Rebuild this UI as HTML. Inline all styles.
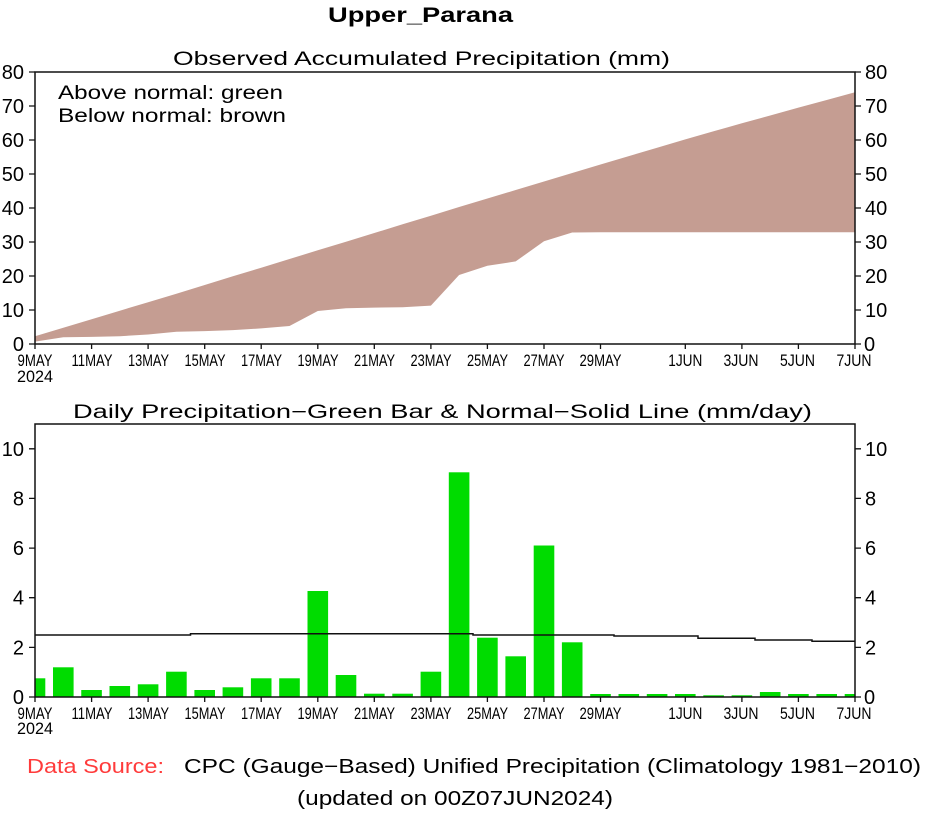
<!DOCTYPE html>
<html>
<head>
<meta charset="utf-8">
<style>
html,body{margin:0;padding:0;background:#fff;}
svg{display:block;}
text{font-family:"Liberation Sans",sans-serif;fill:#000;}
</style>
</head>
<body>
<svg width="926" height="813" viewBox="0 0 926 813" xmlns="http://www.w3.org/2000/svg">
<rect x="0" y="0" width="926" height="813" fill="#fff"/>

<!-- Title -->
<text x="328" y="22" font-size="21" font-weight="bold" textLength="185" lengthAdjust="spacingAndGlyphs">Upper_Parana</text>
<text x="173" y="65" font-size="19" textLength="497" lengthAdjust="spacingAndGlyphs">Observed Accumulated Precipitation (mm)</text>

<!-- TOP CHART -->
<polygon fill="#c59d92" points="35,336.2 63.3,327.7 91.6,319.2 119.8,310.7 148.1,302.2 176.4,293.7 204.7,285.0 232.9,276.3 261.2,267.7 289.5,259.0 317.8,250.3 346.0,241.7 374.3,233.0 402.6,224.3 430.9,215.7 459.1,207.0 487.4,198.5 515.7,190.0 544.0,181.5 572.2,173.0 600.5,164.5 628.8,156.1 657.1,147.8 685.3,139.4 713.6,131.3 741.9,123.3 770.2,115.5 798.4,107.6 826.7,100.0 855,92.3 855,232.2 600.5,232.2 572.2,232.5 544.0,241.3 515.7,261.4 487.4,265.8 459.1,275.0 430.9,305.6 402.6,307.3 374.3,307.6 346.0,308.3 317.8,311.0 289.5,326.0 261.2,328.4 232.9,330.1 204.7,331.1 176.4,331.8 148.1,334.5 119.8,336.2 91.6,336.9 63.3,337.2 35,341.6"/>
<rect x="35" y="72" width="820" height="272" fill="none" stroke="#111" stroke-width="1.5"/>

<text x="58" y="99" font-size="19" textLength="225" lengthAdjust="spacingAndGlyphs">Above normal: green</text>
<text x="58" y="122" font-size="19" textLength="228" lengthAdjust="spacingAndGlyphs">Below normal: brown</text>

<!-- y ticks top -->
<g stroke="#111" stroke-width="1.3">
<path d="M29,344H35M29,310H35M29,276H35M29,242H35M29,208H35M29,174H35M29,140H35M29,106H35M29,72H35"/>
<path d="M855,344H861M855,310H861M855,276H861M855,242H861M855,208H861M855,174H861M855,140H861M855,106H861M855,72H861"/>
<path d="M35,344V349M91.6,344V349M148.1,344V349M204.7,344V349M261.2,344V349M317.8,344V349M374.3,344V349M430.9,344V349M487.4,344V349M544,344V349M600.5,344V349M685.3,344V349M741.9,344V349M798.4,344V349M855,344V349"/>
</g>
<g font-size="20" text-anchor="end">
<text x="24" y="351">0</text>
<text x="24" y="317">10</text>
<text x="24" y="283">20</text>
<text x="24" y="249">30</text>
<text x="24" y="215">40</text>
<text x="24" y="181">50</text>
<text x="24" y="147">60</text>
<text x="24" y="113">70</text>
<text x="24" y="79">80</text>
</g>
<g font-size="20">
<text x="864" y="351">0</text>
<text x="865" y="317">10</text>
<text x="865" y="283">20</text>
<text x="865" y="249">30</text>
<text x="865" y="215">40</text>
<text x="865" y="181">50</text>
<text x="865" y="147">60</text>
<text x="865" y="113">70</text>
<text x="865" y="79">80</text>
</g>
<g font-size="17" text-anchor="middle" lengthAdjust="spacingAndGlyphs">
<text x="35" y="366" textLength="35" lengthAdjust="spacingAndGlyphs">9MAY</text>
<text x="35" y="382" textLength="36" lengthAdjust="spacingAndGlyphs">2024</text>
<text x="92" y="366" textLength="41" lengthAdjust="spacingAndGlyphs">11MAY</text>
<text x="148.5" y="366" textLength="41" lengthAdjust="spacingAndGlyphs">13MAY</text>
<text x="205" y="366" textLength="41" lengthAdjust="spacingAndGlyphs">15MAY</text>
<text x="261.5" y="366" textLength="41" lengthAdjust="spacingAndGlyphs">17MAY</text>
<text x="318" y="366" textLength="41" lengthAdjust="spacingAndGlyphs">19MAY</text>
<text x="374.5" y="366" textLength="41" lengthAdjust="spacingAndGlyphs">21MAY</text>
<text x="431" y="366" textLength="41" lengthAdjust="spacingAndGlyphs">23MAY</text>
<text x="487.5" y="366" textLength="41" lengthAdjust="spacingAndGlyphs">25MAY</text>
<text x="544" y="366" textLength="41" lengthAdjust="spacingAndGlyphs">27MAY</text>
<text x="600.5" y="366" textLength="42" lengthAdjust="spacingAndGlyphs">29MAY</text>
<text x="685.3" y="366" textLength="34" lengthAdjust="spacingAndGlyphs">1JUN</text>
<text x="741" y="366" textLength="35" lengthAdjust="spacingAndGlyphs">3JUN</text>
<text x="797.5" y="366" textLength="35" lengthAdjust="spacingAndGlyphs">5JUN</text>
<text x="854" y="366" textLength="35" lengthAdjust="spacingAndGlyphs">7JUN</text>
</g>

<!-- BOTTOM CHART -->
<text x="73" y="418" font-size="19" textLength="739" lengthAdjust="spacingAndGlyphs">Daily Precipitation−Green Bar &amp; Normal−Solid Line (mm/day)</text>

<g fill="#00dc00">
<rect x="35" y="678.3" width="10.3" height="18.7"/>
<rect x="53.0" y="667.3" width="20.6" height="29.7"/>
<rect x="81.25" y="690" width="20.6" height="7"/>
<rect x="109.5" y="686" width="20.6" height="11"/>
<rect x="137.8" y="684.3" width="20.6" height="12.7"/>
<rect x="166.1" y="671.7" width="20.6" height="25.3"/>
<rect x="194.4" y="690" width="20.6" height="7"/>
<rect x="222.6" y="687.3" width="20.6" height="9.7"/>
<rect x="250.9" y="678.3" width="20.6" height="18.7"/>
<rect x="279.2" y="678.3" width="20.6" height="18.7"/>
<rect x="307.5" y="591" width="20.6" height="106"/>
<rect x="335.7" y="675" width="20.6" height="22"/>
<rect x="364.0" y="693.7" width="20.6" height="3.3"/>
<rect x="392.3" y="693.7" width="20.6" height="3.3"/>
<rect x="420.6" y="671.7" width="20.6" height="25.3"/>
<rect x="448.8" y="472.3" width="20.6" height="224.7"/>
<rect x="477.1" y="637.7" width="20.6" height="59.3"/>
<rect x="505.4" y="656.3" width="20.6" height="40.7"/>
<rect x="533.7" y="545.5" width="20.6" height="151.5"/>
<rect x="561.9" y="642.3" width="20.6" height="54.7"/>
<rect x="590.2" y="694" width="20.6" height="3"/>
<rect x="618.5" y="694" width="20.6" height="3"/>
<rect x="646.8" y="694" width="20.6" height="3"/>
<rect x="675.0" y="694" width="20.6" height="3"/>
<rect x="703.3" y="695.3" width="20.6" height="1.7"/>
<rect x="731.6" y="695.3" width="20.6" height="1.7"/>
<rect x="759.9" y="692" width="20.6" height="5"/>
<rect x="788.1" y="694" width="20.6" height="3"/>
<rect x="816.4" y="694" width="20.6" height="3"/>
<rect x="844.7" y="694" width="10.3" height="3"/>
</g>

<path d="M35,635H190.5V633.7H473V635H614V636H698V638.3H755V640H812V641.3H855" fill="none" stroke="#111" stroke-width="1.5"/>

<rect x="35" y="424" width="820" height="273" fill="none" stroke="#111" stroke-width="1.5"/>

<g stroke="#111" stroke-width="1.3">
<path d="M29,697H35M29,647.4H35M29,597.7H35M29,548.1H35M29,498.4H35M29,448.8H35"/>
<path d="M855,697H861M855,647.4H861M855,597.7H861M855,548.1H861M855,498.4H861M855,448.8H861"/>
<path d="M35,697V702M91.6,697V702M148.1,697V702M204.7,697V702M261.2,697V702M317.8,697V702M374.3,697V702M430.9,697V702M487.4,697V702M544,697V702M600.5,697V702M685.3,697V702M741.9,697V702M798.4,697V702M855,697V702"/>
</g>
<g font-size="20" text-anchor="end">
<text x="24" y="704">0</text>
<text x="24" y="654.4">2</text>
<text x="24" y="604.7">4</text>
<text x="24" y="555.1">6</text>
<text x="24" y="505.4">8</text>
<text x="24" y="455.8">10</text>
</g>
<g font-size="20">
<text x="864" y="704">0</text>
<text x="865" y="654.4">2</text>
<text x="865" y="604.7">4</text>
<text x="865" y="555.1">6</text>
<text x="865" y="505.4">8</text>
<text x="865" y="455.8">10</text>
</g>
<g font-size="17" text-anchor="middle">
<text x="35" y="719" textLength="35" lengthAdjust="spacingAndGlyphs">9MAY</text>
<text x="35" y="734" textLength="36" lengthAdjust="spacingAndGlyphs">2024</text>
<text x="92" y="719" textLength="41" lengthAdjust="spacingAndGlyphs">11MAY</text>
<text x="148.5" y="719" textLength="41" lengthAdjust="spacingAndGlyphs">13MAY</text>
<text x="205" y="719" textLength="41" lengthAdjust="spacingAndGlyphs">15MAY</text>
<text x="261.5" y="719" textLength="41" lengthAdjust="spacingAndGlyphs">17MAY</text>
<text x="318" y="719" textLength="41" lengthAdjust="spacingAndGlyphs">19MAY</text>
<text x="374.5" y="719" textLength="41" lengthAdjust="spacingAndGlyphs">21MAY</text>
<text x="431" y="719" textLength="41" lengthAdjust="spacingAndGlyphs">23MAY</text>
<text x="487.5" y="719" textLength="41" lengthAdjust="spacingAndGlyphs">25MAY</text>
<text x="544" y="719" textLength="41" lengthAdjust="spacingAndGlyphs">27MAY</text>
<text x="600.5" y="719" textLength="42" lengthAdjust="spacingAndGlyphs">29MAY</text>
<text x="685.3" y="719" textLength="34" lengthAdjust="spacingAndGlyphs">1JUN</text>
<text x="741" y="719" textLength="35" lengthAdjust="spacingAndGlyphs">3JUN</text>
<text x="797.5" y="719" textLength="35" lengthAdjust="spacingAndGlyphs">5JUN</text>
<text x="854" y="719" textLength="35" lengthAdjust="spacingAndGlyphs">7JUN</text>
</g>

<!-- Footer -->
<text x="27" y="773" font-size="20" fill="#ff3b3b" style="fill:#ff3b3b" textLength="137" lengthAdjust="spacingAndGlyphs">Data Source:</text>
<text x="184" y="773" font-size="20" textLength="737" lengthAdjust="spacingAndGlyphs">CPC (Gauge−Based) Unified Precipitation (Climatology 1981−2010)</text>
<text x="297" y="805" font-size="20" textLength="316" lengthAdjust="spacingAndGlyphs">(updated on 00Z07JUN2024)</text>
</svg>
</body>
</html>
